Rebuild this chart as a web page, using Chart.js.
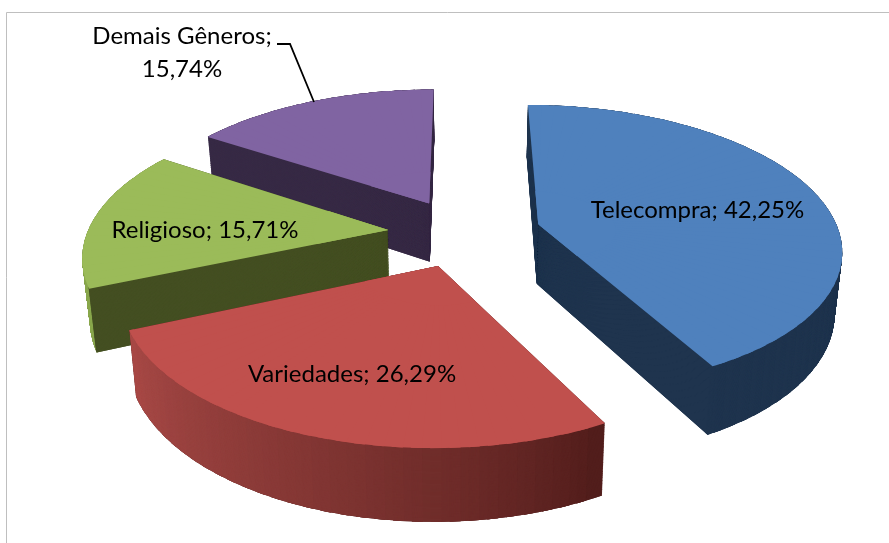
<!DOCTYPE html>
<html><head><meta charset="utf-8">
<style>html,body{margin:0;padding:0;background:#fff}canvas{display:block;filter:blur(0.45px)}</style>
<script src="https://cdn.jsdelivr.net/npm/chart.js@4/dist/chart.umd.js"></script>
</head><body>
<canvas id="c" width="889" height="543"></canvas>
<script>
const categories = ['Telecompra','Variedades','Religioso','Demais Gêneros'];
const shares = [42.25,26.29,15.71,15.74];

const topColors = ['#4f81bd','#c0504d','#9bbb59','#8064a2'];
const cutColors = ['#1f344e','#4f1c1a','#444f22','#372a45'];
// wall colour at slice start / end angle
const wallColors = [['#1f344e','#1f344e'],['#4f1c1a','#aa4b48'],['#8aa84e','#8aa84e'],['#372a45','#372a45']];
const explode = [0.26,0.24,0.25,0.245];
const paintOrder = [3,2,0,1];
// camera: top rim and bottom rim of the pie
const cam = {cx:463,g:0.16,top:{cy:233,ru:301,rv:141},bot:{cy:293,ru:295,rv:150}};
const labelFont = '24px Lato';
const labelPos = [
  {x:697.5,y:217.5,lines:0},{x:352,y:381.5,lines:0},{x:205,y:237.5,lines:0},{x:182,y:44,lines:1}
];
const fmt = v => v.toFixed(2).replace('.',',')+'%';

function project(u,v,t){
  const w=1-cam.g*v, ru=cam.top.ru+(cam.bot.ru-cam.top.ru)*t,
        rv=cam.top.rv+(cam.bot.rv-cam.top.rv)*t, cy=cam.top.cy+(cam.bot.cy-cam.top.cy)*t;
  return [cam.cx+ru*u/w, cy+rv*v/w];
}
const hex=c=>[1,3,5].map(i=>parseInt(c.substr(i,2),16));
function mix(a,b,f){const x=hex(a),y=hex(b);return 'rgb('+x.map((q,i)=>Math.round(q+(y[i]-q)*f)).join(',')+')';}

const arc=new Chart.ArcElement({x:0,y:0,options:{borderWidth:0,borderRadius:0,offset:0,spacing:0,circular:true,borderAlign:'center',borderColor:'transparent',backgroundColor:'#000'}});
const WEDGE=3*Math.PI/180;
function sector(ctx,A,eu,ev,t,r,f,a,b,end,inner,color){
  const B=project(eu+f*Math.cos(a),ev+f*Math.sin(a),t),C=project(eu+f*Math.cos(b),ev+f*Math.sin(b),t);
  const ax=r*Math.cos(a),ay=r*Math.sin(a),bx=r*Math.cos(b),by=r*Math.sin(b),det=ax*by-ay*bx;
  const p=[B[0]-A[0],B[1]-A[1]],q=[C[0]-A[0],C[1]-A[1]];
  const m11=(p[0]*by-q[0]*ay)/det,m12=(-p[0]*bx+q[0]*ax)/det,
        m21=(p[1]*by-q[1]*ay)/det,m22=(-p[1]*bx+q[1]*ax)/det;
  ctx.setTransform(m11,m21,m12,m22,A[0],A[1]);
  arc.startAngle=a;arc.endAngle=end;arc.circumference=end-a;
  arc.innerRadius=inner*r;arc.outerRadius=r;
  arc.options.backgroundColor=color;
  arc.draw(ctx);
}
function origin(el,idx,t){
  const mid=(el.startAngle+el.endAngle)/2;
  const eu=Math.cos(mid)*explode[idx],ev=Math.sin(mid)*explode[idx];
  return {eu,ev,A:project(eu,ev,t)};
}
function drawWedges(ctx,el,idx,t,inner,colorFn){
  const r=el.outerRadius,s=el.startAngle,e=el.endAngle;
  const {eu,ev,A}=origin(el,idx,t);
  const n=Math.max(1,Math.round((e-s)/WEDGE));
  for(let i=0;i<n;i++){
    const a=s+(e-s)*i/n,b=s+(e-s)*(i+1)/n;
    sector(ctx,A,eu,ev,t,r,1,a,b,i<n-1?Math.min(b+0.03,e):b,inner,colorFn((i+0.5)/n));
  }
  if(inner===0) sector(ctx,A,eu,ev,t,r,0.25,s,e,e,0,colorFn(0.5));
  ctx.setTransform(1,0,0,1,0,0);
}
// radial cut faces that look toward the camera
function drawCutFaces(ctx,el,idx,t){
  const r=el.outerRadius,s=el.startAngle,e=el.endAngle,W=0.012;
  const {eu,ev,A}=origin(el,idx,t);
  if(Math.cos(s)<0) sector(ctx,A,eu,ev,t,r,1,s,s+W,s+W,0,cutColors[idx]);
  if(Math.cos(e)>0) sector(ctx,A,eu,ev,t,r,1,e-W,e,e,0,cutColors[idx]);
  ctx.setTransform(1,0,0,1,0,0);
}
const pie3d={
  id:'pie3d',
  beforeDraw(chart){
    const c=chart.ctx;c.save();c.strokeStyle='#bfbfbf';c.lineWidth=1;c.beginPath();
    c.moveTo(6.5,543);c.lineTo(6.5,12.5);c.lineTo(889,12.5);c.stroke();c.restore();
  },
  beforeDatasetDraw(chart,args){
    const ctx=chart.ctx,els=args.meta.data,STEP=0.0125;
    ctx.save();
    for(const i of paintOrder){
      const el=els[i];
      for(let t=1;t>0;t-=STEP) drawWedges(ctx,el,i,t,0,()=>cutColors[i]);
      for(let t=1;t>0;t-=STEP) drawWedges(ctx,el,i,t,0.985,f=>mix(wallColors[i][0],wallColors[i][1],Math.pow(f,0.8)));
      for(let t=1;t>0;t-=STEP) drawCutFaces(ctx,el,i,t);
      drawWedges(ctx,el,i,0,0,()=>el.options.backgroundColor);
    }
    ctx.restore();
    return false;
  },
  afterDatasetsDraw(chart){
    const c=chart.ctx;c.save();
    c.strokeStyle='#000';c.lineWidth=1.8;c.beginPath();c.moveTo(277,44);c.lineTo(290,44);c.lineTo(314,102);c.stroke();
    c.fillStyle='#000';c.font=labelFont;c.textAlign='center';c.textBaseline='alphabetic';
    categories.forEach((name,i)=>{
      const p=labelPos[i];
      if(p.lines){c.fillText(name+';',p.x,p.y);c.fillText(fmt(shares[i]),p.x,p.y+33);}
      else c.fillText(name+'; '+fmt(shares[i]),p.x,p.y);
    });
    c.restore();
  }
};
new Chart(document.getElementById('c'),{
  type:'pie',
  data:{labels:categories,datasets:[{data:shares,backgroundColor:topColors,borderWidth:0}]},
  options:{responsive:false,animation:false,layout:{padding:0},
    plugins:{legend:{display:false},tooltip:{enabled:false}}},
  plugins:[pie3d]
});
</script>
</body></html>
